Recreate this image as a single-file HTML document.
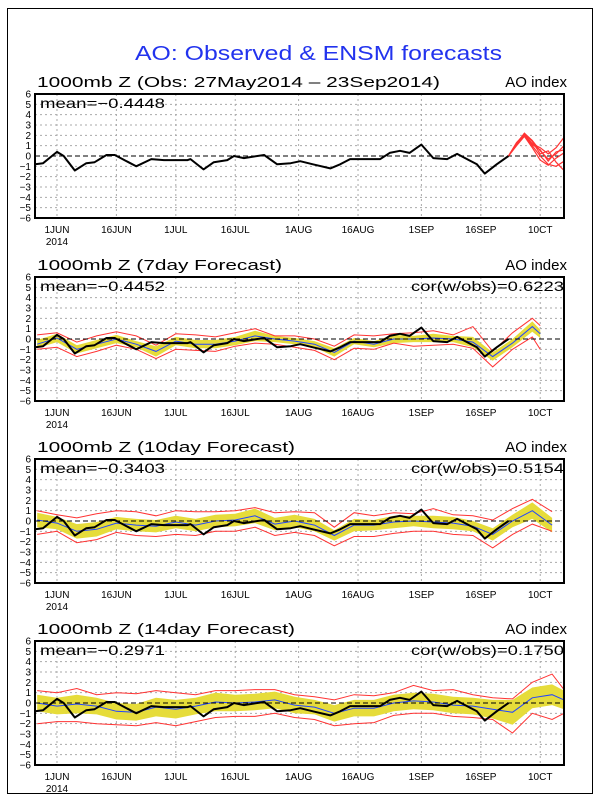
<!DOCTYPE html>
<html><head><meta charset="utf-8"><style>
html,body{margin:0;padding:0;background:#fff;}
svg{display:block;font-family:"Liberation Sans",sans-serif;}
</style></head><body>
<svg id="chart" width="600" height="800" viewBox="0 0 600 800" xmlns="http://www.w3.org/2000/svg">
<rect x="0" y="0" width="600" height="800" fill="#fff"/>
<rect x="7.5" y="8.5" width="585" height="785" fill="none" stroke="#000" stroke-width="1"/>
<text x="135" y="60" font-size="20" fill="#2233ee" textLength="367" lengthAdjust="spacingAndGlyphs">AO: Observed &amp; ENSM forecasts</text>
</svg>
<script>
// ---- data ----
const dateTickDays = [0,15,30,45,61,76,92,107,122];
const dateTickLabels = ["1JUN","16JUN","1JUL","16JUL","1AUG","16AUG","1SEP","16SEP","10CT"];
const yTicks = [6,5,4,3,2,1,0,-1,-2,-3,-4,-5,-6];
const obsDays = [-5.5,-3.5,0,1.7,4.5,7.4,9.5,12.5,14.6,20,23.8,27,33,33.7,37,39.6,43,44.7,47.2,52.3,55.6,59,61.4,64.6,69,71.5,74,81.6,84,86.6,89,92,95,98.5,101,104,106,108,111,114];
const obsVals = [-0.8,-0.7,0.4,0,-1.4,-0.7,-0.6,0.1,0.1,-1.0,-0.3,-0.4,-0.4,-0.3,-1.3,-0.6,-0.4,0,-0.2,0.1,-0.8,-0.7,-0.5,-0.8,-1.2,-0.8,-0.3,-0.3,0.3,0.5,0.3,1.1,-0.2,-0.3,0.2,-0.4,-0.8,-1.7,-0.8,0.0];
const memberDays = [114,116,118,120,122,124,126,128];
const member1 = [0,1.2,2.2,1.5,0.5,-0.3,0.2,1.0];
const member2 = [0,1.1,2.0,1.0,0,-0.8,-1.0,-0.5];
const member3 = [0,1.3,2.1,1.2,0.8,0.2,0.8,1.8];
const member4 = [0,1.0,1.9,0.8,-0.4,-0.9,-0.2,0.3];
const member5 = [0,1.2,2.2,1.4,0.2,0.5,-0.6,-1.4];
const member6 = [0,1.1,2.0,1.1,0.6,-0.5,0.4,0.6];
const panelTitles = ["1000mb Z (Obs: 27May2014 \u2013 23Sep2014)","1000mb Z (7day Forecast)","1000mb Z (10day Forecast)","1000mb Z (14day Forecast)"];
const panelMeans = ["mean=\u22120.4448","mean=\u22120.4452","mean=\u22120.3403","mean=\u22120.2971"];
const panelCors = ["","cor(w/obs)=0.6223","cor(w/obs)=0.5154","cor(w/obs)=0.1750"];
// 7-day forecast
const f7Days = [-5,0,5,10,15,20,25,30,35,40,45,50,55,60,65,70,75,80,85,90,95,100,105,110,115,120,122];
const f7Mean = [-0.5,0.1,-1.0,-0.5,0,-0.5,-1.2,-0.2,-0.5,-0.5,-0.2,0.3,0,-0.2,-0.5,-1.3,-0.2,-0.5,0,0,0.1,0,-0.3,-1.7,-0.4,1.2,0.5];
const f7Spread = [0.4,0.4,0.4,0.4,0.4,0.3,0.5,0.4,0.4,0.4,0.4,0.5,0.3,0.3,0.3,0.4,0.3,0.3,0.4,0.3,0.4,0.3,0.5,0.4,0.4,0.5,0.4];
const f7Hi = [0.4,0.6,-0.3,0.3,0.7,0.3,-0.6,0.5,0.4,0.2,0.6,1.0,0.3,0.3,0,-0.7,0.4,0.3,0.5,0.6,0.8,0.4,1.2,-1.2,0.6,2.0,1.3];
const f7Lo = [-1.0,-0.8,-1.7,-1.2,-0.6,-1.0,-1.9,-1.0,-1.1,-1.2,-0.7,-0.4,-0.5,-0.8,-1.1,-2.0,-0.9,-1.0,-0.4,-0.7,-0.6,-0.5,-0.9,-2.7,-1.0,0.2,-1.0];
// 10-day forecast
const f10Days = [-5,0,5,10,15,20,25,30,35,40,45,50,55,60,65,70,75,80,85,90,95,100,105,110,115,120,125];
const f10Mean = [0.1,-0.2,-1.0,-0.8,-0.2,-0.4,-0.5,-0.1,-0.4,0.0,0.1,0.5,-0.3,0.0,-0.4,-1.4,-0.4,-0.4,-0.1,0.0,-0.1,-0.2,-0.5,-1.3,0.0,1.0,-0.4];
const f10Spread = [0.7,0.6,0.7,0.7,0.6,0.6,0.6,0.6,0.6,0.6,0.6,0.7,0.6,0.6,0.6,0.5,0.6,0.5,0.6,0.5,0.6,0.6,0.5,0.6,0.6,0.8,0.7];
const f10Hi = [1.0,0.6,0.3,0.7,1.0,0.9,0.5,1.0,0.9,0.9,1.0,1.3,0.8,0.9,0.8,-0.6,0.8,0.5,0.8,0.7,1.2,0.6,0.5,0.1,1.2,2.1,0.9];
const f10Lo = [-1.3,-1.0,-2.1,-1.8,-1.1,-1.4,-1.5,-1.3,-1.4,-1.0,-1.0,-0.6,-1.4,-1.1,-1.4,-2.4,-1.5,-1.5,-1.2,-1.0,-1.0,-1.3,-1.4,-2.6,-1.3,-0.3,-1.0];
// 14-day forecast
const f14Days = [-5,0,5,10,15,20,25,30,35,40,45,50,55,60,65,70,75,80,85,90,95,100,105,110,115,120,125,128];
const f14Mean = [0,-0.3,-0.1,-0.3,-0.8,-0.9,-0.4,-0.6,-0.3,0.1,0.0,0.1,0.3,-0.2,-0.4,-1.0,-0.5,-0.5,0.0,0.2,0.1,-0.2,-0.3,-0.6,-0.9,0.5,0.8,0.3];
const f14Spread = [0.8,0.8,0.9,0.8,0.8,0.8,0.9,0.9,0.8,0.9,0.8,0.8,0.8,0.8,0.7,0.8,0.8,0.8,0.8,0.8,0.8,0.8,0.8,0.9,1.2,1.0,1.0,0.9];
const f14Hi = [1.2,1.0,1.4,0.8,1.0,0.9,1.2,1.0,0.8,1.2,1.2,1.3,1.3,0.8,0.6,0.3,0.8,0.7,1.0,1.7,1.2,1.3,0.8,0.5,0.4,2.0,2.8,1.3];
const f14Lo = [-2.0,-1.8,-1.8,-2.0,-2.1,-2.2,-1.9,-2.2,-1.8,-1.4,-1.3,-1.3,-1.0,-1.4,-1.6,-2.2,-2.0,-1.9,-1.2,-1.0,-1.0,-1.3,-1.4,-1.6,-2.9,-1.0,-1.6,-1.0];

// ---- drawing ----
const NS = "http://www.w3.org/2000/svg";
const svg = document.getElementById("chart");
const X0 = 35, X1 = 564, D0 = -5.55, D1 = 128;
const panelTops = [94, 277, 459, 641];
const PH = 124;
function xScale(d){ return X0 + (d - D0) * (X1 - X0) / (D1 - D0); }
function yScaleFor(top){ return v => top + (6 - v) * PH / 12; }
function mk(tag, attrs, parent){ const e = document.createElementNS(NS, tag); for (const k in attrs) e.setAttribute(k, attrs[k]); (parent||svg).appendChild(e); return e; }
function pts(days, vals, ys){ return days.map((d,i)=>xScale(d).toFixed(1)+","+ys(vals[i]).toFixed(1)).join(" "); }

function drawPanel(p){
  const top = panelTops[p], ys = yScaleFor(top);
  const g = mk("g", {});
  
  
  // grid
  yTicks.forEach(v => {
    if (v === 6 || v === -6 || v === 0) return;
    const l = mk("line", {x1:X0, x2:X1, y1:ys(v), y2:ys(v), stroke:"#aaa", "stroke-width":1, "stroke-dasharray":"2,3"}, g);
    
    
  });
  dateTickDays.forEach(d => {
    const l = mk("line", {x1:xScale(d), x2:xScale(d), y1:top, y2:top+PH, stroke:"#aaa", "stroke-width":1, "stroke-dasharray":"2,3"}, g);
    
    
  });
  // forecast ensemble
  let fd=null, fm, fs, fh, fl;
  if (p===1){ fd=f7Days; fm=f7Mean; fs=f7Spread; fh=f7Hi; fl=f7Lo; }
  if (p===2){ fd=f10Days; fm=f10Mean; fs=f10Spread; fh=f10Hi; fl=f10Lo; }
  if (p===3){ fd=f14Days; fm=f14Mean; fs=f14Spread; fh=f14Hi; fl=f14Lo; }
  if (fd){
    const up = fd.map((d,i)=>xScale(d).toFixed(1)+","+ys(fm[i]+fs[i]).toFixed(1));
    const dn = fd.map((d,i)=>xScale(d).toFixed(1)+","+ys(fm[i]-fs[i]).toFixed(1)).reverse();
    const band = mk("polygon", {points: up.concat(dn).join(" "), fill:"#e6dc3a"}, g);
    
    
    const hi = mk("polyline", {points: pts(fd, fh, ys), fill:"none", stroke:"#ff3333", "stroke-width":1}, g);
    
    
    const lo = mk("polyline", {points: pts(fd, fl, ys), fill:"none", stroke:"#ff3333", "stroke-width":1}, g);
    
    
    const mn = mk("polyline", {points: pts(fd, fm, ys), fill:"none", stroke:"#2244ff", "stroke-width":1}, g);
    
    
  }
  // zero line
  const z = mk("line", {x1:X0, x2:X1, y1:ys(0), y2:ys(0), stroke:"#000", "stroke-width":1, "stroke-dasharray":"5,3"}, g);
  
  
  if (p===0){
    [member1,member2,member3,member4,member5,member6].forEach(m => {
      const l = mk("polyline", {points: pts(memberDays, m, ys), fill:"none", stroke:"#ff3333", "stroke-width":1.2}, g);
      
      
    });
  }
  const ob = mk("polyline", {points: pts(obsDays, obsVals, ys), fill:"none", stroke:"#000", "stroke-width":2, "stroke-linejoin":"round"}, g);
  
  
  // frame
  const fr = mk("rect", {x:X0, y:top, width:X1-X0, height:PH, fill:"none", stroke:"#000", "stroke-width":2}, g);
  
  
  // y labels
  yTicks.forEach(v => {
    const t = mk("text", {x:31, y:ys(v)+3.5, "font-size":10, "text-anchor":"end"}, g);
    t.textContent = v < 0 ? "\u2212"+(-v) : String(v);
    
    
  });
  // x labels
  dateTickDays.forEach((d,i) => {
    const t = mk("text", {x:xScale(d), y:top+PH+15, "font-size":10, "text-anchor":"middle"}, g);
    t.textContent = dateTickLabels[i];
    
    
  });
  const yr = mk("text", {x:xScale(0), y:top+PH+27, "font-size":10, "text-anchor":"middle"}, g);
  yr.textContent = "2014";
  
  
  // titles
  const tl = mk("text", {x:37, y:top-7, "font-size":15, textLength: p===0?403:(p===1?245:(p===2?258:258)), lengthAdjust:"spacingAndGlyphs"}, g);
  tl.textContent = panelTitles[p];
  
  
  const ao = mk("text", {x:567, y:top-7, "font-size":15, "text-anchor":"end"}, g);
  ao.textContent = "AO index";
  
  
  const mt = mk("text", {x:40, y:top+14, "font-size":14, textLength:125, lengthAdjust:"spacingAndGlyphs"}, g);
  mt.textContent = panelMeans[p];
  
  
  if (panelCors[p]){
    const ct = mk("text", {x:411, y:top+14, "font-size":14, textLength:153, lengthAdjust:"spacingAndGlyphs"}, g);
    ct.textContent = panelCors[p];
    
    
  }
}
[0,1,2,3].forEach(drawPanel);
</script>
</body></html>
